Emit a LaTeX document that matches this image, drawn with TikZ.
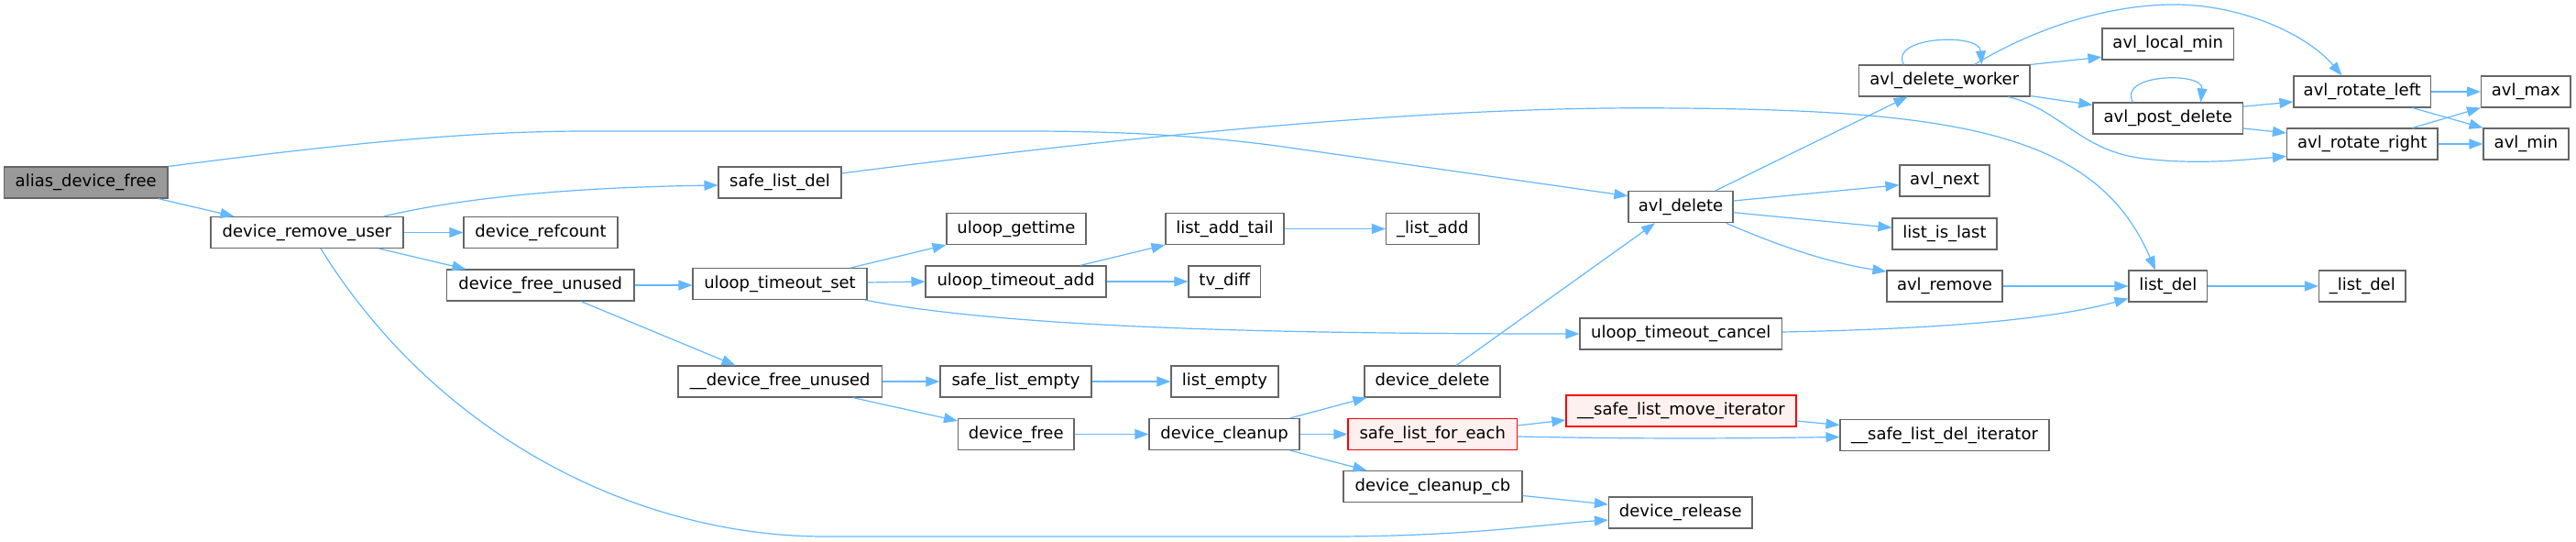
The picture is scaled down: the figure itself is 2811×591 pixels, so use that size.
\documentclass[tikz,border=0pt]{standalone}
\usepackage{fontspec}
\setmainfont{DejaVu Sans}
\usetikzlibrary{arrows.meta,calc}
\definecolor{nodeborder}{HTML}{666666}
\definecolor{rootfill}{HTML}{999999}
\definecolor{redfill}{HTML}{FFF0F0}
\definecolor{edgeblue}{HTML}{63B8FF}
\tikzset{
  fn/.style={draw=nodeborder, fill=white, line width=1.1pt, inner sep=0pt, minimum height=34pt, font=\fontsize{18}{21}\selectfont, anchor=center},
  rootfn/.style={fn, fill=rootfill},
  redfn/.style={fn, draw=red, fill=redfill},
  edge/.style={draw=edgeblue, line width=1.2pt, -{Triangle[length=15pt,width=11pt]}},
}
\begin{document}
\begin{tikzpicture}[x=1pt,y=-1pt]
\fill[white] (0,0) rectangle (2811,591);
\useasboundingbox (0,0) rectangle (2811,591);
% nodes
\node[rootfn, minimum width=178.5pt] (alias) at (93.75,199) {alias\_device\_free};
\node[fn, minimum width=210pt] (devremove) at (335,253.5) {device\_remove\_user};
\node[fn, minimum width=168pt] (refcount) at (590,253.5) {device\_refcount};
\node[fn, minimum width=204.5pt] (freeunused) at (589.75,311) {device\_free\_unused};
\node[fn, minimum width=134pt] (safelistdel) at (851,199) {safe\_list\_del};
\node[fn, minimum width=152pt] (gettime) at (1109,249.5) {uloop\_gettime};
\node[fn, minimum width=129pt] (listaddtail) at (1336.5,249.5) {list\_add\_tail};
\node[fn, minimum width=190pt] (timeoutset) at (851,309.5) {uloop\_timeout\_set};
\node[fn, minimum width=197pt] (timeoutadd) at (1108.5,307) {uloop\_timeout\_add};
\node[fn, minimum width=78.5pt] (tvdiff) at (1336.25,307) {tv\_diff};
\node[fn, minimum width=222.5pt] (dfu) at (851.25,416) {\_\_device\_free\_unused};
\node[fn, minimum width=165pt] (safelistempty) at (1108.5,416) {safe\_list\_empty};
\node[fn, minimum width=117pt] (listempty) at (1336.5,416) {list\_empty};
\node[fn, minimum width=126.5pt] (devicefree) at (1108.75,473.5) {device\_free};
\node[fn, minimum width=164pt] (devicecleanup) at (1336,473.5) {device\_cleanup};
\node[fn, minimum width=101.5pt] (listadd) at (1563.25,249.5) {\_list\_add};
\node[fn, minimum width=114pt] (avldelete) at (1834,225.7) {avl\_delete};
\node[fn, minimum width=220.5pt] (timeoutcancel) at (1834.25,364) {uloop\_timeout\_cancel};
\node[fn, minimum width=148pt] (devicedelete) at (1563,416) {device\_delete};
\node[redfn, minimum width=251pt] (moveiter) at (1834.5,448) {\_\_safe\_list\_move\_iterator};
\node[redfn, minimum width=184.5pt] (foreach) at (1563.25,473.5) {safe\_list\_for\_each};
\node[fn, minimum width=228pt] (deliter) at (2122,474.5) {\_\_safe\_list\_del\_iterator};
\node[fn, minimum width=195pt] (cleanupcb) at (1563.5,530.5) {device\_cleanup\_cb};
\node[fn, minimum width=156.5pt] (release) at (1833.75,559) {device\_release};
\node[fn, minimum width=186.5pt] (worker) at (2121.75,88) {avl\_delete\_worker};
\node[fn, minimum width=143.5pt] (localmin) at (2365.75,48) {avl\_local\_min};
\node[fn, minimum width=163.5pt] (postdelete) at (2365.75,129) {avl\_post\_delete};
\node[fn, minimum width=149.5pt] (rotleft) at (2577.75,100) {avl\_rotate\_left};
\node[fn, minimum width=97.5pt] (avlmax) at (2756.25,100) {avl\_max};
\node[fn, minimum width=164.5pt] (rotright) at (2577.75,157) {avl\_rotate\_right};
\node[fn, minimum width=93pt] (avlmin) at (2756.5,157) {avl\_min};
\node[fn, minimum width=98pt] (avlnext) at (2122,197) {avl\_next};
\node[fn, minimum width=114pt] (listislast) at (2122,255) {list\_is\_last};
\node[fn, minimum width=126pt] (avlremove) at (2122,312) {avl\_remove};
\node[fn, minimum width=85.5pt] (listdel) at (2365.75,312) {list\_del};
\node[fn, minimum width=94.5pt] (ulistdel) at (2577.75,312) {\_list\_del};
% edges
\draw[edge] (alias.north east) .. controls (350,160) and (500,143) .. (640,143) -- (1120,143) .. controls (1200,143) and (1300,146) .. (1400,160) -- ($(avldelete.west)+(0,-12)$);
\draw[edge] ($(alias.south east)+(-11,0)$) -- ($(devremove.north west)+(26,0)$);
\draw[edge] ($(devremove.north east)+(-22,0)$) .. controls (520,212) and (650,204) .. ($(safelistdel.west)+(0,3)$);
\draw[edge] (devremove.east) -- (refcount.west);
\draw[edge] ($(devremove.south east)+(-27,0)$) -- ($(freeunused.north west)+(21.5,0)$);
\draw[edge] ($(devremove.south)+(15,0)$) .. controls (480,480) and (700,585) .. (900,585) -- (1450,585) .. controls (1600,585) and (1680,572) .. ($(release.west)+(0,8)$);
\draw[edge] ($(safelistdel.east)+(0,-10)$) .. controls (1300,140) and (1600,115) .. (1830,118) .. controls (2150,120) and (2290,150) .. ($(listdel.north)+(-13.75,0)$);
\draw[edge] (freeunused.east) -- (freeunused.east -| timeoutset.west);
\draw[edge] ($(freeunused.south)+(44,0)$) -- ($(dfu.north west)+(63,0)$);
\draw[edge] ($(timeoutset.north east)+(-18,0)$) -- (gettime.south west);
\draw[edge] ($(timeoutset.east)+(0,-1.5)$) -- (timeoutadd.west);
\draw[edge] ($(timeoutset.south east)+(-3,0)$) .. controls (1100,358) and (1400,364) .. (timeoutcancel.west);
\draw[edge] ($(timeoutadd.north east)+(-29,0)$) -- (listaddtail.south west);
\draw[edge] (timeoutadd.east) -- (tvdiff.west);
\draw[edge] (listaddtail.east) -- (listadd.west);
\draw[edge] (dfu.east) -- (safelistempty.west);
\draw[edge] ($(dfu.south east)+(-32.5,0)$) -- ($(devicefree.north west)+(0,3)$);
\draw[edge] (safelistempty.east) -- (listempty.west);
\draw[edge] (devicefree.east) -- (devicecleanup.west);
\draw[edge] ($(devicecleanup.north east)+(-11,0)$) -- ($(devicedelete.south west)+(3,0)$);
\draw[edge] (devicecleanup.east) -- (foreach.west);
\draw[edge] ($(devicecleanup.south east)+(-11,0)$) -- ($(cleanupcb.north west)+(26,0)$);
\draw[edge] ($(devicedelete.north)+(26,0)$) -- ($(avldelete.south)+(-28,0)$);
\draw[edge] ($(foreach.east)+(0,-9.5)$) -- ($(moveiter.west)+(0,10)$);
\draw[edge] ($(foreach.east)+(0,2.5)$) .. controls (1800,479) and (1900,478) .. ($(deliter.west)+(0,2)$);
\draw[edge] ($(moveiter.east)+(0,11)$) -- ($(deliter.west)+(0,-11)$);
\draw[edge] ($(cleanupcb.east)+(0,10)$) -- ($(release.west)+(0,-9)$);
\draw[edge] ($(timeoutcancel.east)+(0,-2)$) .. controls (2150,358) and (2250,345) .. ($(listdel.south west)+(0,-4)$);
\draw[edge] ($(avldelete.north)+(37.5,0)$) -- ($(worker.south west)+(53.5,0)$);
\draw[edge] ($(avldelete.east)+(0,-6.7)$) -- ($(avlnext.west)+(0,4.7)$);
\draw[edge] ($(avldelete.east)+(0,6)$) -- ($(listislast.west)+(0,-6.7)$);
\draw[edge] ($(avldelete.south east)+(-8,0)$) .. controls (1950,272) and (2000,287) .. ($(avlremove.north west)+(0,1.7)$);
\draw[edge] (avlremove.east) -- (listdel.west);
\draw[edge] (listdel.east) -- (ulistdel.west);
\draw[edge] ($(worker.north west)+(49.5,0)$) .. controls (2060,40) and (2160,35) .. ($(worker.north west)+(134.5,0)$);
\draw[edge] (worker.north east) -- ($(localmin.south west)+(0,-3.3)$);
\draw[edge] ($(worker.south east)+(0,-1)$) -- ($(postdelete.north west)+(0,3)$);
\draw[edge] ($(worker.north west)+(126.5,0)$) .. controls (2230,25) and (2310,5) .. (2372,5) .. controls (2450,5) and (2520,40) .. ($(rotleft.north west)+(53,0)$);
\draw[edge] ($(worker.south east)+(-24,0)$) .. controls (2250,120) and (2270,165) .. (2340,173) .. controls (2400,180) and (2450,174) .. ($(rotright.south west)+(0,-4)$);
\draw[edge] ($(postdelete.north west)+(44,0)$) .. controls (2310,80) and (2405,78) .. ($(postdelete.north west)+(118,0)$);
\draw[edge] ($(postdelete.north east)+(0,4.7)$) -- ($(rotleft.west)+(0,11)$);
\draw[edge] ($(postdelete.east)+(0,11)$) -- ($(rotright.west)+(0,-12)$);
\draw[edge] (rotleft.east) -- (avlmax.west);
\draw[edge] ($(rotleft.south east)+(-20.5,0)$) -- (avlmin.north west);
\draw[edge] ($(rotright.north east)+(-28,0)$) -- (avlmax.south west);
\draw[edge] (rotright.east) -- (avlmin.west);
\end{tikzpicture}
\end{document}
